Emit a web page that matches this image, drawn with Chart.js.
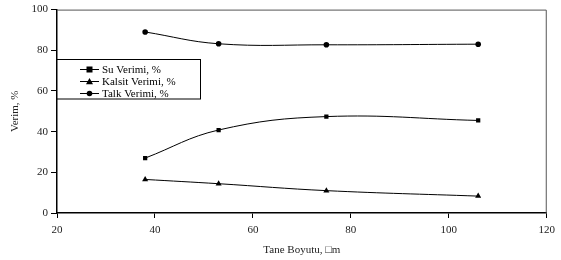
<!DOCTYPE html>
<html><head><meta charset="utf-8">
<script src="https://cdn.jsdelivr.net/npm/chart.js@4/dist/chart.umd.min.js"></script>
<style>html,body{margin:0;padding:0;background:#fff}#wrap{width:561px;height:260px;position:relative}</style>
</head><body><div id="wrap"><canvas id="c" width="561" height="260"></canvas></div>
<script>
const sizes = [38, 53, 75, 106];
const suVerimi = [27, 40.8, 47.4, 45.5];
const kalsitVerimi = [16.5, 14.4, 11.0, 8.3];
const talkVerimi = [89, 83.2, 82.7, 83];
const seriesLabels = ['Su Verimi, %', 'Kalsit Verimi, %', 'Talk Verimi, %'];
const xTicks = [20, 40, 60, 80, 100, 120];
const yTicks = [0, 20, 40, 60, 80, 100];
const xTitle = 'Tane Boyutu, \u25A1m';
const yTitle = 'Verim, %';

const FONT = "'Liberation Serif', 'Times New Roman', serif";
Chart.defaults.font.family = FONT;
Chart.defaults.font.size = 11;
Chart.defaults.color = '#000';

const styles = ['rect', 'triangle', 'circle'];
const radii = [3, 3.5, 2.8];
const seriesValues = [suVerimi, kalsitVerimi, talkVerimi];
const datasets = seriesValues.map((vals, i) => ({
  label: seriesLabels[i],
  data: sizes.map((x, j) => ({x: x, y: vals[j]})),
  borderColor: '#000',
  backgroundColor: '#000',
  borderWidth: 1,
  pointStyle: styles[i],
  pointRadius: radii[i],
  pointBorderWidth: 0,
  tension: 0.4
}));

function drawMarker(ctx, style, x, y, r) {
  ctx.beginPath();
  if (style === 'rect') {
    ctx.rect(x - r, y - r, 2 * r, 2 * r);
  } else if (style === 'triangle') {
    ctx.moveTo(x, y - r);
    ctx.lineTo(x + r, y + r * 0.8);
    ctx.lineTo(x - r, y + r * 0.8);
    ctx.closePath();
  } else {
    ctx.arc(x, y, r, 0, Math.PI * 2);
  }
  ctx.fill();
}

const framePlugin = {
  id: 'frame',
  beforeDatasetsDraw(chart) {
    const {ctx, chartArea: a} = chart;
    ctx.save();
    ctx.strokeStyle = '#555';
    ctx.lineWidth = 1;
    ctx.beginPath();
    ctx.moveTo(a.left, a.top + 0.5);
    ctx.lineTo(a.right - 0.5, a.top + 0.5);
    ctx.lineTo(a.right - 0.5, a.bottom);
    ctx.stroke();
    ctx.restore();
  },
  afterDraw(chart) {
    const {ctx, chartArea: a} = chart;
    const bx = a.left, by = 59.5, bw = 143.5, bh = 39.5;
    ctx.save();
    ctx.fillStyle = '#fff';
    ctx.fillRect(bx, by, bw, bh);
    ctx.strokeStyle = '#000';
    ctx.lineWidth = 1;
    ctx.strokeRect(bx, by, bw, bh);
    ctx.font = '11px ' + FONT;
    ctx.textBaseline = 'middle';
    ctx.textAlign = 'left';
    chart.data.datasets.forEach((ds, i) => {
      const y = 69 + i * 12;
      ctx.strokeStyle = '#000';
      ctx.beginPath();
      ctx.moveTo(80, y + 0.5);
      ctx.lineTo(99, y + 0.5);
      ctx.stroke();
      ctx.fillStyle = '#000';
      drawMarker(ctx, ds.pointStyle, 89.5, y + 0.5, ds.pointRadius);
      ctx.fillText(ds.label, 102, y + 1);
    });
    ctx.restore();
  }
};

new Chart(document.getElementById('c'), {
  type: 'line',
  data: {datasets: datasets},
  plugins: [framePlugin],
  options: {
    responsive: false,
    animation: false,
    devicePixelRatio: 1,
    layout: {padding: {left: 0, right: 14, top: 7, bottom: 0}},
    plugins: {legend: {display: false}, tooltip: {enabled: false}},
    scales: {
      x: {
        type: 'linear', min: xTicks[0], max: xTicks[xTicks.length - 1],
        afterBuildTicks: s => { s.ticks = xTicks.map(v => ({value: v})); },
        afterFit: s => { s.height = 47; },
        grid: {drawOnChartArea: false, tickLength: 5, color: '#000'},
        border: {color: '#000', width: 1.5},
        ticks: {padding: 6, color: '#222'},
        title: {display: true, text: xTitle, color: '#222', padding: {top: 0, bottom: 3.4}}
      },
      y: {
        type: 'linear', min: yTicks[0], max: yTicks[yTicks.length - 1],
        afterBuildTicks: s => { s.ticks = yTicks.map(v => ({value: v})); },
        afterFit: s => { s.width = 57; },
        grid: {drawOnChartArea: false, tickLength: 6, color: '#000'},
        border: {color: '#000', width: 1.5},
        ticks: {padding: 3, color: '#222'},
        title: {display: true, text: yTitle, color: '#222', padding: {top: 8.4, bottom: 0}}
      }
    }
  }
});
</script></body></html>
